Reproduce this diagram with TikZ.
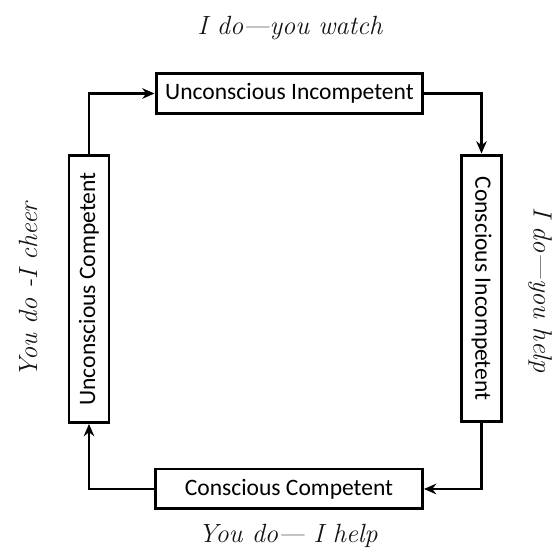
\documentclass[tikz,border=0pt]{standalone}
\usepackage{fontspec}
\newfontfamily\boxfont{Carlito}
\usepackage{tikz}
\usetikzlibrary{positioning, arrows.meta}
\definecolor{lineColor}{RGB}{0, 0, 0}
\definecolor{labelColor}{RGB}{20, 20, 20}
\tikzset{
    stage_box/.style={
        draw=lineColor,
        line width=1.7pt,
        fill=white,
        text=lineColor,
        font=\boxfont\fontsize{13.4}{15}\selectfont,
        minimum width=5.34cm,
        minimum height=0.8cm,
        inner sep=0pt
    },
    cycle_edge/.style={
        -{Stealth[length=7pt,width=6pt]},
        line width=1.2pt,
        draw=lineColor
    },
    hand_label/.style={
        text=labelColor,
        font=\itshape\fontsize{15}{18}\selectfont
    }
}
\begin{document}
\begin{tikzpicture}[x=0.02cm, y=-0.02cm]
        \useasboundingbox (0,0) rectangle (556,550);

        \node[stage_box] (ui) at (289.5,93.5) {Unconscious Incompetent};
        \node[stage_box, rotate=-90] (ci) at (481.5,288.5) {Conscious Incompetent};
        \node[stage_box] (cc) at (289,489) {Conscious Competent};
        \node[stage_box, rotate=90] (uc) at (89,289) {Unconscious Competent};

        \node[hand_label] (watch) at (290,28) {I do---you watch};
        \node[hand_label, rotate=-90] (help) at (540,290) {I do---you help};
        \node[hand_label] (ihelp) at (288,536) {You do--- I help};
        \node[hand_label, rotate=90] (cheer) at (28,290) {You do -I cheer};

        \draw[cycle_edge] (uc.east) |- (ui.west);
        \draw[cycle_edge] (ui.east) -| (ci.west);
        \draw[cycle_edge] (ci.east) |- (cc.east);
        \draw[cycle_edge] (cc.west) -| (uc.west);
    \end{tikzpicture}
\end{document}
